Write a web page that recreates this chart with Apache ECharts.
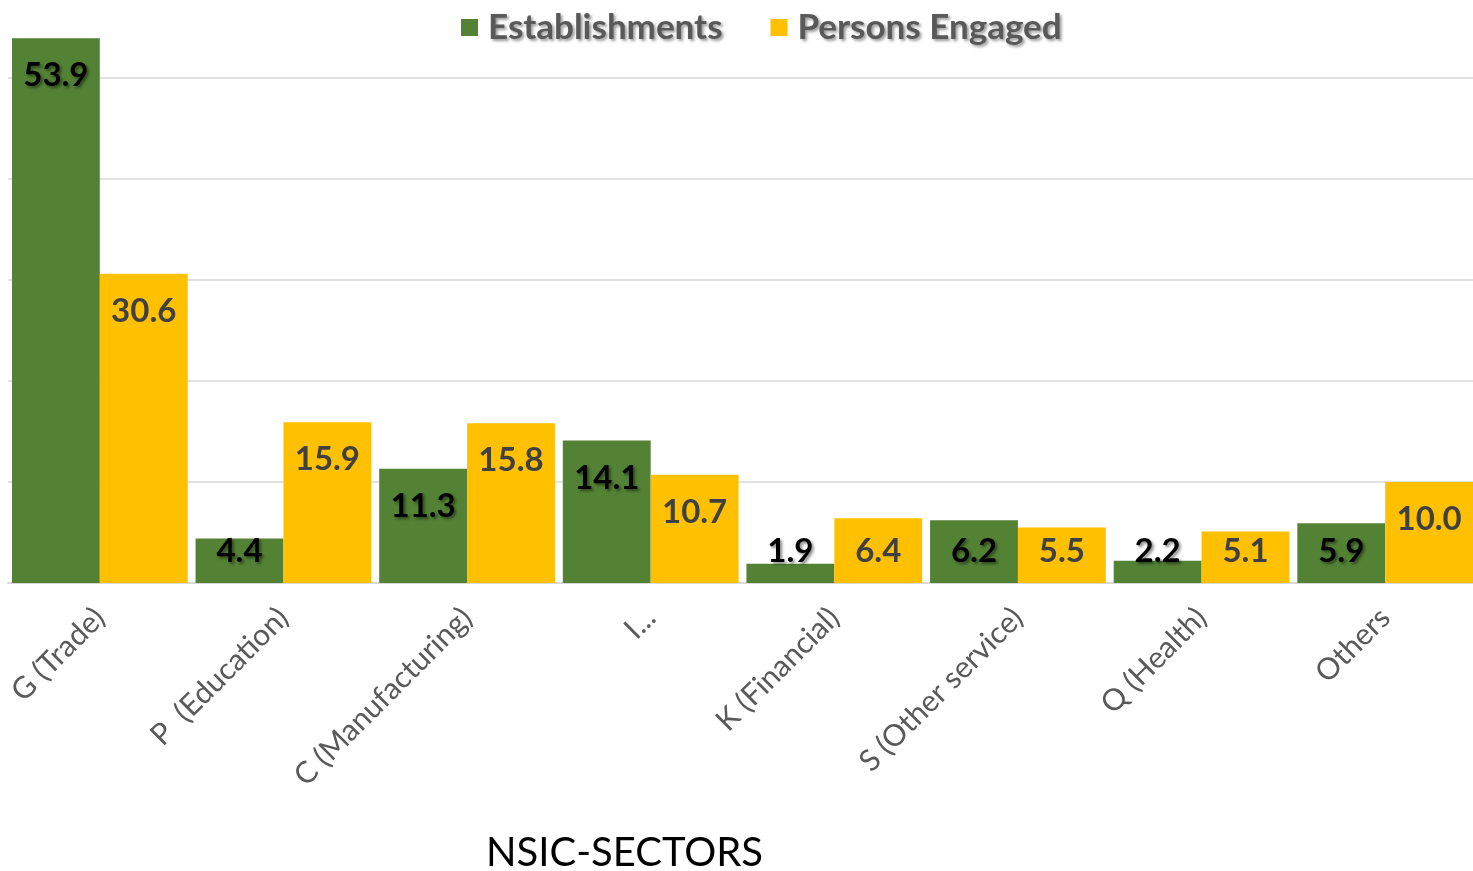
<!DOCTYPE html>
<html>
<head>
<meta charset="utf-8">
<script src="https://cdn.jsdelivr.net/npm/echarts@6/dist/echarts.min.js"></script>
<style>
  html, body { margin: 0; padding: 0; background: #fff; }
  #chart { width: 1473px; height: 871px; }
</style>
</head>
<body>
<div id="chart"></div>
<script>
// NSIC sector shares (%)
const categories = ['G (Trade)', 'P  (Education)', 'C (Manufacturing)', 'I...', 'K (Financial)', 'S (Other service)', 'Q (Health)', 'Others'];
const establishments = [53.9, 4.4, 11.3, 14.1, 1.9, 6.2, 2.2, 5.9];
const personsEngaged = [30.6, 15.9, 15.8, 10.7, 6.4, 5.5, 5.1, 10.0];

const FONT = 'Lato, "Open Sans", sans-serif';

// Short bars keep their label resting just above the axis instead of inside the bar top
function withLabels(values, labelStyle) {
  return values.map(v => ({
    value: v,
    label: Object.assign({}, labelStyle, v < 6.8
      ? { position: 'insideBottom', distance: 15 }
      : { position: 'insideTop', distance: 21 })
  }));
}

const greenLabel = {
  show: true, fontFamily: FONT, fontWeight: 'bold', fontSize: 33, color: '#000',
  textShadowColor: 'rgba(0,0,0,0.45)', textShadowBlur: 3, textShadowOffsetX: 2, textShadowOffsetY: 2,
  formatter: p => p.value.toFixed(1)
};
const yellowLabel = {
  show: true, fontFamily: FONT, fontWeight: 'bold', fontSize: 33, color: '#404040',
  formatter: p => p.value.toFixed(1)
};

const chart = echarts.init(document.getElementById('chart'), null, { renderer: 'canvas' });
chart.setOption({
  animation: false,
  backgroundColor: '#fff',
  title: {
    text: 'NSIC-SECTORS',
    left: 481, top: 828,
    textStyle: { fontFamily: FONT, fontWeight: 'normal', fontSize: 40, color: '#000' }
  },
  legend: {
    top: 5, left: 456,
    itemWidth: 17, itemHeight: 17, itemGap: 48,
    icon: 'rect',
    textStyle: {
      fontFamily: FONT, fontWeight: 'bold', fontSize: 35, color: '#595959',
      padding: [0, 0, 0, 5],
      textShadowColor: 'rgba(0,0,0,0.4)', textShadowBlur: 3, textShadowOffsetX: 2, textShadowOffsetY: 2
    }
  },
  grid: { left: 8, width: 1469, top: 17, bottom: 288, containLabel: false, outerBoundsMode: 'none' },
  xAxis: {
    type: 'category',
    data: categories,
    axisLine: { show: true, lineStyle: { color: '#d9d9d9', width: 2 } },
    axisTick: { show: false },
    axisLabel: {
      interval: 0, rotate: 45, margin: 30,
      fontFamily: FONT, fontSize: 30, color: '#595959'
    }
  },
  yAxis: {
    type: 'value', min: 0, max: 56, interval: 10,
    axisLine: { show: false }, axisTick: { show: false }, axisLabel: { show: false },
    splitLine: { show: true, showMaxLine: false, lineStyle: { color: '#d9d9d9', width: 1.5 } }
  },
  series: [
    {
      name: 'Establishments', type: 'bar',
      data: withLabels(establishments, greenLabel),
      barGap: '0%', barCategoryGap: '4.3%',
      itemStyle: { color: '#548235' }
    },
    {
      name: 'Persons Engaged', type: 'bar',
      data: withLabels(personsEngaged, yellowLabel),
      barGap: '0%', barCategoryGap: '4.3%',
      itemStyle: { color: '#FFC000' }
    }
  ]
});
</script>
</body>
</html>
